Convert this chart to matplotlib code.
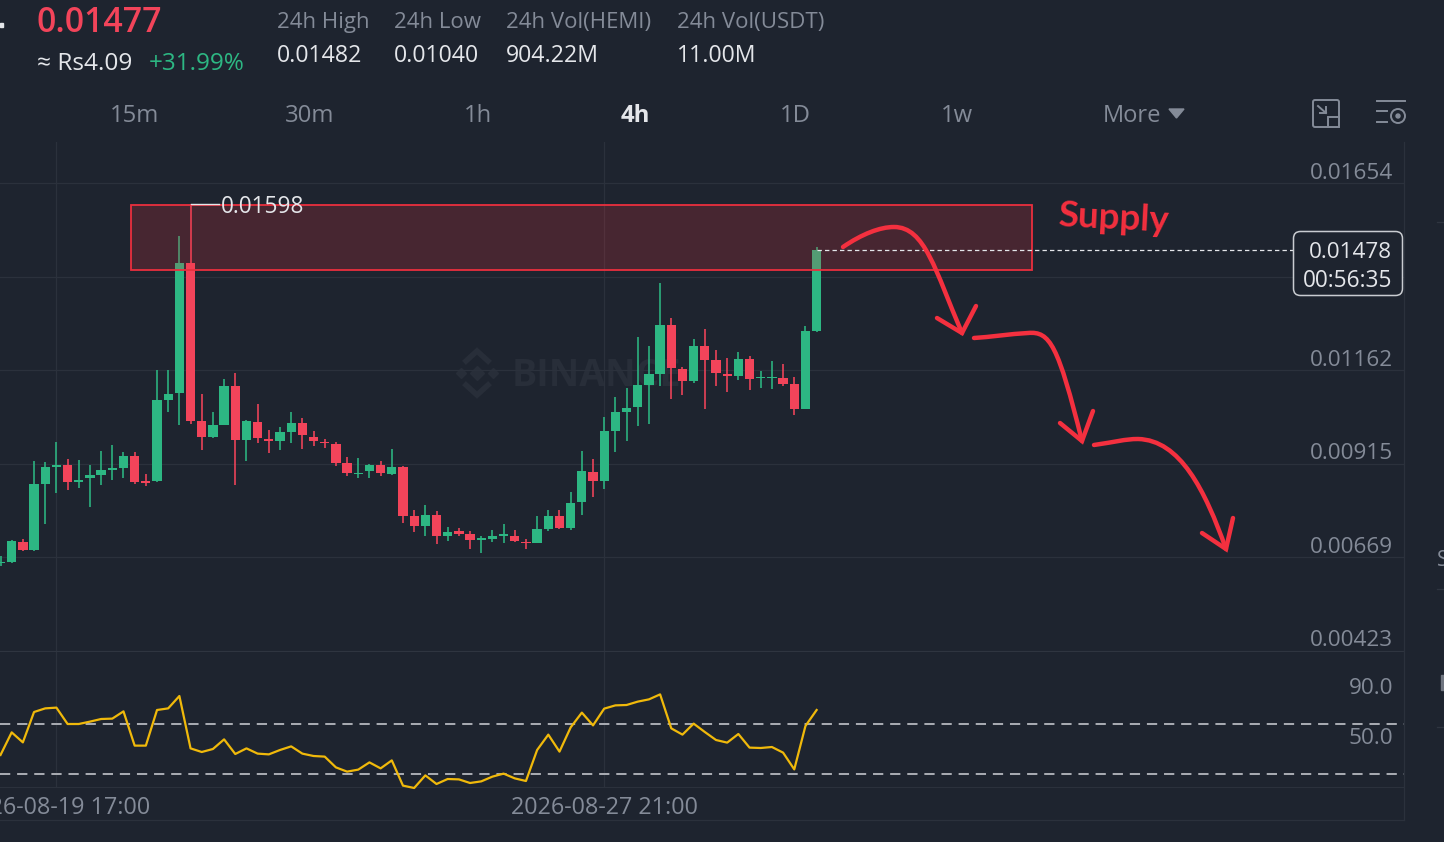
import numpy as np
import matplotlib
matplotlib.use('Agg')
import matplotlib.pyplot as plt
from matplotlib.patches import Rectangle, FancyBboxPatch, PathPatch, Circle, Polygon
from matplotlib.path import Path

plt.rcParams['font.family'] = ['Open Sans', 'DejaVu Sans']

# prices below are in 1e-5 USDT
opens = [655, 656, 711, 690, 863, 908, 911, 868, 877, 887, 898, 905, 937, 871, 869, 1084, 1102, 1444, 1029, 987,
         1018, 1119, 979, 1026, 981, 976, 1000, 1023, 987, 973, 968, 918, 889, 897, 911, 889, 908, 779, 751, 781,
         725, 738, 732, 716, 718, 726, 726, 711, 707, 745, 779, 746, 814, 895, 869, 1003, 1053, 1064, 1124, 1153,
         1281, 1165, 1132, 1226, 1189, 1152, 1147, 1192, 1140, 1140, 1140, 1126, 1060, 1266]
closes = [658, 713, 690, 863, 908, 913, 868, 873, 887, 898, 905, 937, 868, 866, 1082, 1099, 1444, 1029, 987, 1018,
          1119, 979, 1027, 984, 976, 1000, 1023, 992, 976, 969, 918, 892, 892, 911, 890, 908, 777, 751, 781, 726,
          735, 732, 716, 718, 726, 730, 713, 708, 745, 777, 746, 813, 897, 869, 1002, 1052, 1061, 1123, 1152, 1281,
          1168, 1134, 1226, 1189, 1155, 1147, 1191, 1139, 1144, 1144, 1126, 1060, 1266, 1478]
highs = [674, 716, 718, 923, 921, 974, 929, 926, 913, 950, 964, 947, 947, 889, 1163, 1163, 1515, 1598, 1099, 1052,
         1139, 1155, 1031, 1073, 1005, 1013, 1052, 1036, 1002, 982, 973, 934, 931, 915, 923, 955, 909, 793, 808, 790,
         750, 747, 739, 726, 742, 758, 742, 718, 779, 795, 793, 840, 948, 929, 1039, 1090, 1116, 1249, 1226, 1391,
         1300, 1171, 1244, 1270, 1215, 1194, 1210, 1200, 1160, 1186, 1178, 1145, 1278, 1486]
lows = [647, 655, 685, 687, 758, 839, 847, 852, 803, 860, 872, 879, 863, 856, 868, 1052, 1018, 1021, 952, 984,
        1017, 861, 924, 971, 944, 952, 971, 955, 963, 958, 910, 884, 879, 879, 884, 887, 761, 735, 726, 705,
        713, 725, 692, 682, 711, 708, 709, 692, 706, 738, 745, 742, 781, 829, 850, 947, 976, 1015, 1021, 1119,
        1086, 1097, 1128, 1060, 1119, 1105, 1136, 1110, 1116, 1113, 1119, 1044, 1059, 1261]
rsi = [45.2, 63.3, 55.3, 79.6, 82.5, 83.1, 70.0, 70.0, 71.9, 74.0, 74.3, 80.1, 52.7, 52.7, 81.2, 82.5, 92.4, 50.5,
       47.6, 50.0, 57.7, 46.0, 50.5, 46.3, 45.7, 49.2, 52.1, 46.3, 44.4, 43.9, 35.3, 31.9, 33.5, 39.3, 34.5, 40.9,
       20.7, 18.8, 28.9, 22.0, 26.0, 25.7, 22.8, 24.1, 27.9, 30.3, 26.5, 24.4, 49.2, 61.5, 47.9, 67.3, 79.1, 68.9,
       82.3, 84.9, 85.2, 87.9, 89.7, 93.7, 66.5, 61.5, 70.3, 63.6, 57.2, 55.1, 62.0, 51.1, 50.8, 51.6, 47.1, 33.7,
       68.4, 81.2]

price_ticks = [1654, 1408, 1162, 915, 669, 423]
price_labels = ['0.01654', '', '0.01162', '0.00915', '0.00669', '0.00423']
rsi_ticks = [90, 50]
rsi_labels = ['90.0', '50.0']
rsi_bands = [70, 30]
date_ticks = [5, 54]
date_labels = ['2026-08-19 17:00', '2026-08-27 21:00']
supply_top, supply_bottom = 1596, 1425
supply_start, supply_end = 11.65, 92.3
last_price = 1478

BG = '#1e242f'
GRID = '#2b313c'
GREEN = '#2db783'
RED = '#f2445a'
INK = '#f0b90b'
GRAY = '#848b98'
LIGHT = '#e4e6ea'
PEN = '#f4303f'

W, H = 1444, 842
PT = 0.72  # points per pixel at dpi 100
fig = plt.figure(figsize=(W / 100, H / 100), dpi=100, facecolor=BG)


def px_axes(top, bottom, left=0, right=W):
    return [left / W, 1 - bottom / H, (right - left) / W, (bottom - top) / H]


# pixel layers for the app chrome, one under and one over the chart
under = fig.add_axes([0, 0, 1, 1], zorder=0)
over = fig.add_axes([0, 0, 1, 1], zorder=5)
for a in (under, over):
    a.set_xlim(0, W)
    a.set_ylim(H, 0)
    a.axis('off')

xlim = (-0.045, 125.54)
ax = fig.add_axes(px_axes(142, 651, 0, 1404), zorder=2)
ax.set_facecolor('none')
ax.set_xlim(*xlim)
ax.set_ylim(0.00423, 0.01762)
rs = fig.add_axes(px_axes(651, 787, 0, 1404), zorder=2)
rs.set_facecolor('none')
rs.set_xlim(*xlim)
rs.set_ylim(19.6, 128.4)

for a in (ax, rs):
    for s in a.spines.values():
        s.set_visible(False)
    a.tick_params(length=0, labelleft=False, labelbottom=False)
    a.set_xticks(date_ticks)
    a.set_axisbelow(True)

ax.grid(True, color=GRID, lw=0.9)
ax.set_yticks(np.array(price_ticks) / 1e5)
rs.grid(True, axis='x', color=GRID, lw=0.9)
rs.set_yticks(rsi_ticks)
rs.spines['top'].set_visible(True)
rs.spines['top'].set_color('#2f3540')
rs.spines['bottom'].set_visible(True)
rs.spines['bottom'].set_color(GRID)

o = np.array(opens) / 1e5
c = np.array(closes) / 1e5
h = np.array(highs) / 1e5
l = np.array(lows) / 1e5
x = np.arange(len(o))
colors = [GREEN if b >= a else RED for a, b in zip(o, c)]

ax.vlines(x, l, h, colors=colors, lw=1.15, zorder=3)
ax.bar(x, np.maximum(np.abs(c - o), 0.00003), bottom=np.minimum(o, c), width=0.83, color=colors, zorder=4)

ax.add_patch(Rectangle((supply_start, supply_bottom / 1e5), supply_end - supply_start,
                       (supply_top - supply_bottom) / 1e5, facecolor='#f0323c', alpha=0.2, edgecolor='none', zorder=5))
ax.add_patch(Rectangle((supply_start, supply_bottom / 1e5), supply_end - supply_start,
                       (supply_top - supply_bottom) / 1e5, fill=False, edgecolor='#ea2f3e', lw=1.3, zorder=5))

# highest price marker
hi = int(np.argmax(h))
ax.plot([hi, hi + 2.5], [h[hi], h[hi]], color=LIGHT, lw=1, zorder=6)
ax.annotate('0.01598', (hi + 2.75, h[hi]), xytext=(0, -2.5 * PT), textcoords='offset points', color=LIGHT,
            fontsize=16.3, va='center', ha='left', zorder=6)

# last price line
ax.plot([x[-1], 115.6], [last_price / 1e5, last_price / 1e5], color=LIGHT, lw=0.9, ls=(0, (3.5, 2.5)), zorder=6)

for p, lab in zip(price_ticks, price_labels):
    ax.annotate(lab, (1, p / 1e5), xycoords=('axes fraction', 'data'), xytext=(-11 * PT, 10 * PT),
                textcoords='offset points', color=GRAY, fontsize=16.2, ha='right', va='center')

rs.plot(x, rsi, color=INK, lw=1.6, zorder=3, clip_on=False)
for b in rsi_bands:
    rs.axhline(b, color='#a6a9b0', lw=1.45, ls=(0, (5.1, 3.4)), zorder=2)
for v, lab in zip(rsi_ticks, rsi_labels):
    rs.annotate(lab, (1, v), xycoords=('axes fraction', 'data'), xytext=(-11 * PT, 11 * PT),
                textcoords='offset points', color=GRAY, fontsize=16.2, ha='right', va='center')

for d, lab in zip(date_ticks, date_labels):
    rs.annotate(lab, (d, 0), xycoords=('data', 'axes fraction'), xytext=(0, -21 * PT), textcoords='offset points',
                color=GRAY, fontsize=16.8, ha='center', va='center')

# panel borders
over.plot([1404, 1404], [142, 820], color=GRID, lw=0.9)
over.plot([0, 1404], [820, 820], color=GRID, lw=0.9)

# header
over.text(36, 23, '0.01477', color=RED, fontsize=24.4, fontweight='semibold', va='center')
over.text(37, 64.5, '≈ Rs4.09', color=LIGHT, fontsize=17.6, va='center')
over.text(149, 64.5, '+31.99%', color=GREEN, fontsize=17.5, va='center')
over.add_patch(Rectangle((0, 23), 3, 4, color=LIGHT))
for xp, top_txt, val in [(277, '24h High', '0.01482'), (394, '24h Low', '0.01040'),
                         (506, '24h Vol(HEMI)', '904.22M'), (677, '24h Vol(USDT)', '11.00M')]:
    over.text(xp, 22.5, top_txt, color=GRAY, fontsize=16, va='center')
    over.text(xp, 56, val, color=LIGHT, fontsize=16.7, va='center')

for xp, tab in [(134, '15m'), (310, '30m'), (478, '1h'), (795, '1D'), (957, '1w')]:
    over.text(xp, 116, tab, color=GRAY, fontsize=17.2, ha='center', va='center')
over.text(635, 116, '4h', color=LIGHT, fontsize=17.2, fontweight='bold', ha='center', va='center')
over.text(1103, 116, 'More', color=GRAY, fontsize=17, va='center')
over.add_patch(Polygon([(1169, 109), (1184, 109), (1176.5, 118)], color=GRAY))

# toolbar icons
over.add_patch(FancyBboxPatch((1313, 100), 26, 27, boxstyle='round,pad=0,rounding_size=2', fill=False, ec=GRAY, lw=1.4))
over.add_patch(Rectangle((1328, 117), 11, 10, fc=BG, ec=GRAY, lw=1.4))
over.plot([1318, 1326], [106, 113], color=GRAY, lw=1.4)
over.plot([1320, 1326, 1326], [113, 113, 107], color=GRAY, lw=1.4)
over.plot([1377, 1405], [101, 101], color=GRAY, lw=1.4)
over.plot([1377, 1387], [111, 111], color=GRAY, lw=1.4)
over.plot([1377, 1387], [122, 122], color=GRAY, lw=1.4)
over.add_patch(Circle((1398, 116), 7, fill=False, ec=GRAY, lw=1.4))
over.add_patch(Circle((1398, 116), 2, color=GRAY))

# last price box
over.add_patch(FancyBboxPatch((1293.5, 231.5), 109, 64, boxstyle='round,pad=0,rounding_size=7',
                              fc=BG, ec='#c9ccd1', lw=1.1))
over.text(1392, 252, '0.01478', color=LIGHT, fontsize=16.2, ha='right', va='center')
over.text(1392, 281, '00:56:35', color=LIGHT, fontsize=16.3, ha='right', va='center')

# watermark
WM = '#282e39'
under.plot([477], [373], marker='D', ms=7, color=WM)
under.plot([461, 493], [373, 373], marker='D', ms=5, ls='none', color=WM)
under.plot([466, 477, 488], [361, 351, 361], color=WM, lw=4, solid_joinstyle='miter')
under.plot([466, 477, 488], [385, 395, 385], color=WM, lw=4, solid_joinstyle='miter')
under.text(512, 376, 'BINANCE', color=WM, fontsize=27, fontweight='bold', va='center')

# right edge leftovers of the cropped screenshot
over.text(1437, 560, 'S', color=GRAY, fontsize=15, va='center', clip_on=True)
over.add_patch(Rectangle((1441, 675), 3, 15, color='#6f7580'))
for yy in (222, 589, 727):
    over.plot([1437, 1444], [yy, yy], color='#2f3540', lw=0.9)

# hand drawn notes
over.text(1058, 216, 'Supply', color=PEN, fontsize=26.5, rotation=-3, va='center', fontweight='bold',
          rotation_mode='anchor', family=['Lato', 'DejaVu Sans'])

pen_paths = [
    [(843, 247), (862, 234), (880, 227), (894, 227), (925, 227), (935, 270), (962, 333)],
    [(974, 338), (990, 337), (1010, 334), (1028, 333), (1050, 331), (1058, 345), (1082, 441)],
    [(1094, 445), (1115, 442), (1125, 439), (1138, 439), (1180, 440), (1205, 490), (1226, 549)],
]
pen_heads = [
    [(937, 318), (962, 333), (976, 306)],
    [(1060, 423), (1082, 441), (1093, 411)],
    [(1202, 533), (1226, 549), (1233, 518)],
]
for verts, head in zip(pen_paths, pen_heads):
    codes = [Path.MOVETO] + [Path.CURVE4] * 6
    over.add_patch(PathPatch(Path(verts, codes), fill=False, ec=PEN, lw=3.2, capstyle='round'))
    over.plot(*zip(*head), color=PEN, lw=3.2, solid_capstyle='round', solid_joinstyle='miter')

fig.savefig('out.png', dpi=100, facecolor=BG)
